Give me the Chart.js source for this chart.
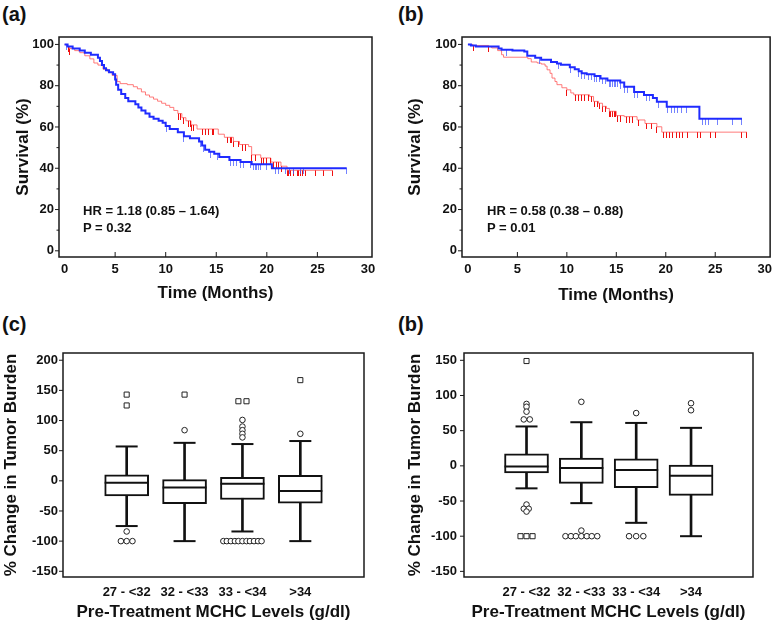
<!DOCTYPE html>
<html>
<head>
<meta charset="utf-8">
<script src="https://cdn.jsdelivr.net/npm/chart.js@4.4.1/dist/chart.umd.min.js"></script>
<style>
  body { margin: 0; background: #fff; font-family: 'Liberation Sans', Arial, sans-serif; }
  #page { position: relative; width: 777px; height: 624px; overflow: hidden; color: #111; }
  .panel { position: absolute; }
  .tag { position: absolute; font-weight: bold; font-size: 20px; line-height: 20px; }
  .note { position: absolute; font-weight: bold; font-size: 13px; line-height: 15px; white-space: nowrap; }
</style>
</head>
<body>
<div id="page">
  <div class="tag" style="left:2px;top:4px">(a)</div>
  <div class="tag" style="left:398px;top:4px">(b)</div>
  <div class="tag" style="left:2px;top:314px">(c)</div>
  <div class="tag" style="left:398px;top:314px">(b)</div>

  <div class="panel" style="left:0;top:0;width:388px;height:310px"><canvas id="kmA"></canvas></div>
  <div class="panel" style="left:390px;top:0;width:387px;height:310px"><canvas id="kmB"></canvas></div>
  <div class="panel" style="left:0;top:310px;width:388px;height:314px"><canvas id="boxC"></canvas></div>
  <div class="panel" style="left:390px;top:310px;width:387px;height:314px"><canvas id="boxD"></canvas></div>

  <div class="note" style="left:83px;top:203px">HR = 1.18 (0.85 – 1.64)</div>
  <div class="note" style="left:83px;top:220px">P = 0.32</div>
  <div class="note" style="left:487px;top:203px">HR = 0.58 (0.38 – 0.88)</div>
  <div class="note" style="left:487px;top:220px">P = 0.01</div>
</div>

<script>
// ---- survival curves: step times (months) and survival (%) after each drop ----
const aBlueT = [0.3, 0.8, 1.5, 2.0, 2.6, 3.3, 3.5, 3.7, 3.9, 4.1, 4.4, 4.8, 5.0, 5.1, 5.3, 5.6, 6.0, 6.3, 7.0, 7.3, 7.6, 8.0, 8.4, 8.8, 9.3, 9.7, 10.0, 10.4, 11.2, 11.8, 12.4, 13.3, 13.6, 13.9, 14.3, 14.8, 15.3, 16.3, 17.4, 18.5, 20.5];
const aBlueS = [99, 98, 97, 96, 95, 93.5, 92, 90, 88.5, 87.5, 86.5, 85.5, 83, 80.5, 78, 76, 74, 72.5, 71, 69.5, 68, 66.5, 65, 64, 63, 62, 60.5, 59, 57.5, 55.5, 54.5, 53, 51, 49, 48, 47, 45.5, 44, 43, 42, 40];
const aBlueEnd = 27.9;
const aBlueCens = [0.2, 10.1, 11.8, 13.4, 13.75, 14.4, 15.1, 16.4, 16.7, 17.05, 17.4, 17.7, 18.35, 18.7, 18.85, 19.0, 19.2, 19.35, 20.0, 20.85, 21.2, 21.8, 22.2, 22.6, 23.3, 23.6, 27.9];

const aRedT = [0.2, 0.5, 1.0, 1.5, 2.0, 2.5, 2.9, 3.3, 3.8, 4.3, 4.7, 5.2, 5.5, 6.2, 6.8, 7.2, 7.6, 8.0, 8.4, 8.8, 9.2, 9.6, 10.0, 10.4, 10.8, 11.2, 11.6, 12.0, 12.5, 13.1, 15.2, 15.8, 16.7, 17.3, 18.2, 18.5, 19.4, 20.4, 21.4, 22.0];
const aRedS = [99, 98, 97, 96, 94.5, 93, 91, 90, 88, 86.5, 85, 82, 81, 80.5, 79.5, 78.5, 77, 75.5, 74.5, 73.5, 72.5, 71.5, 70.5, 69.5, 68, 66.5, 64.5, 63, 61, 59, 56.5, 55, 53, 51.5, 50.5, 46.5, 45, 43, 41, 39];
const aRedEnd = 26.45;
const aRedCens = [0.4, 0.5, 11.3, 11.5, 11.8, 12.25, 12.45, 12.6, 12.75, 13.6, 13.9, 14.25, 14.6, 14.75, 16.1, 16.4, 16.55, 16.7, 17.2, 17.55, 17.9, 18.5, 18.85, 19.5, 19.7, 20.0, 20.35, 20.7, 20.95, 21.2, 21.5, 22.0, 22.15, 22.3, 22.65, 23.0, 23.15, 23.3, 23.5, 23.8, 24.8, 25.6, 26.45];

const bBlueT = [0.3, 0.8, 3.1, 3.4, 4.5, 5.7, 6.0, 6.8, 7.4, 8.4, 9.0, 9.4, 10.3, 10.8, 11.2, 11.5, 12.0, 12.8, 13.4, 14.1, 15.4, 15.8, 16.8, 17.8, 18.7, 19.1, 20.1, 23.4];
const bBlueS = [99.5, 99, 98, 97.4, 97, 96.6, 94.5, 93.5, 92.6, 91.5, 90.8, 90.2, 89, 88, 87, 86, 85.5, 84.7, 83.5, 82.5, 81.5, 79.5, 77, 75.5, 74, 72.2, 69.8, 64];
const bBlueEnd = 27.7;
const bBlueCens = [3.9, 7.2, 9.2, 10.35, 11.2, 11.5, 11.8, 12.15, 12.45, 12.8, 12.95, 13.3, 13.6, 13.9, 14.3, 14.45, 14.6, 14.8, 14.9, 15.1, 15.45, 15.8, 16.1, 16.8, 17.1, 18.1, 18.4, 19.25, 20.2, 20.55, 20.9, 21.2, 21.55, 22.05, 23.7, 24.0, 24.3, 25.2, 26.7, 27.7];

const bRedT = [0.5, 2.1, 2.4, 3.0, 3.4, 3.6, 6.05, 6.4, 7.0, 7.4, 7.8, 8.0, 8.3, 8.5, 8.8, 9.0, 9.5, 10.0, 10.4, 10.7, 12.3, 12.7, 13.2, 13.6, 14.0, 14.3, 15.0, 15.8, 17.1, 17.9, 19.1, 19.6];
const bRedS = [99.5, 99, 98.3, 97, 95, 93.8, 93.1, 91.5, 91, 90.5, 89.5, 87.7, 86, 83.7, 82, 80.5, 79, 78, 76.5, 75.6, 74.8, 72.4, 71.5, 70, 69, 67.6, 65.5, 65, 63.4, 61.7, 60.1, 57.5];
const bRedEnd = 28.2;
const bRedCens = [0.6, 2.1, 10.0, 10.85, 11.15, 11.5, 11.8, 12.15, 12.45, 12.8, 13.1, 13.3, 13.6, 13.9, 14.3, 14.45, 14.6, 14.8, 14.9, 15.1, 15.45, 16.0, 16.3, 16.6, 17.25, 18.1, 18.6, 19.1, 19.75, 20.1, 20.4, 20.7, 21.1, 21.4, 21.7, 22.2, 23.2, 23.5, 24.5, 25.0, 27.7, 28.2];

const kmXTicks = [0, 5, 10, 15, 20, 25, 30];
const kmYTicks = [0, 20, 40, 60, 80, 100];
const kmYMinor = [10, 30, 50, 70, 90];

// ---- tumour burden box plots ----
const mchcCats = ['27 - <32', '32 - <33', '33 - <34', '>34'];
const catPos = [1, 2, 3, 4];

const cLo = [-75, -100, -84, -100];
const cQ1 = [-25, -38, -31, -37];
const cMed = [-3, -11, -5, -17];
const cQ3 = [10, 2, 6, 9];
const cHi = [57, 63, 61, 66];
const cCircles = [
  {x: 1, y: -84}, {x: 0.9, y: -100}, {x: 1, y: -100}, {x: 1.1, y: -100},
  {x: 2, y: 84},
  {x: 3, y: 101}, {x: 3, y: 90}, {x: 3, y: 84}, {x: 3, y: 78}, {x: 3, y: 72},
  {x: 2.67, y: -100}, {x: 2.73, y: -100}, {x: 2.8, y: -100}, {x: 2.87, y: -100}, {x: 2.93, y: -100}, {x: 3, y: -100},
  {x: 3.07, y: -100}, {x: 3.13, y: -100}, {x: 3.2, y: -100}, {x: 3.27, y: -100}, {x: 3.33, y: -100},
  {x: 4, y: 78}
];
const cSquares = [{x: 1, y: 143}, {x: 1, y: 125}, {x: 2, y: 143}, {x: 2.93, y: 132}, {x: 3.07, y: 132}, {x: 4, y: 167}];
const cYTicks = [-150, -100, -50, 0, 50, 100, 150, 200];

const dLo = [-32, -53, -81, -100];
const dQ1 = [-10, -25, -31, -42];
const dMed = [-1, -3, -6, -14];
const dQ3 = [17, 11, 10, 1];
const dHi = [56, 62, 61, 54];
const dCircles = [
  {x: 1, y: 88}, {x: 1, y: 84}, {x: 1, y: 77}, {x: 0.95, y: 66}, {x: 1.06, y: 66},
  {x: 1, y: -55}, {x: 0.95, y: -61}, {x: 1.04, y: -61}, {x: 1, y: -65},
  {x: 2, y: 91}, {x: 2, y: -92},
  {x: 1.71, y: -100}, {x: 1.81, y: -100}, {x: 1.9, y: -100}, {x: 2, y: -100}, {x: 2.1, y: -100}, {x: 2.19, y: -100}, {x: 2.29, y: -100},
  {x: 3, y: 75}, {x: 2.87, y: -100}, {x: 3, y: -100}, {x: 3.13, y: -100},
  {x: 4, y: 89}, {x: 4, y: 79}
];
const dSquares = [{x: 1, y: 149}, {x: 0.89, y: -100}, {x: 1, y: -100}, {x: 1.11, y: -100}];
const dYTicks = [-150, -100, -50, 0, 50, 100, 150];

Chart.defaults.font.family = "'Liberation Sans', Arial, sans-serif";
Chart.defaults.color = '#111';

const tickFont = {size: 13, weight: 'bold'};
const titleFont = {size: 17, weight: 'bold'};

// box outline + tick marks drawn from the chart's own scales
const framePlugin = {
  id: 'frame',
  afterDatasetsDraw(chart, args, opts) {
    const {ctx, chartArea: a, scales} = chart;
    const x = scales.x, y = scales.y;
    ctx.save();
    ctx.strokeStyle = '#1a1a1a';
    ctx.lineWidth = 1.5;
    ctx.strokeRect(a.left, a.top, a.right - a.left, a.bottom - a.top);
    ctx.lineWidth = 1;
    ctx.beginPath();
    (opts.xIn || []).forEach(v => {
      const px = x.getPixelForValue(v);
      ctx.moveTo(px, a.bottom); ctx.lineTo(px, a.bottom - 5);
    });
    (opts.yOut || []).forEach(v => {
      const py = y.getPixelForValue(v);
      ctx.moveTo(a.left, py); ctx.lineTo(a.left - 4, py);
    });
    (opts.yMinor || []).forEach(v => {
      const py = y.getPixelForValue(v);
      ctx.moveTo(a.left, py); ctx.lineTo(a.left - 2.5, py);
    });
    ctx.stroke();
    ctx.restore();
  }
};

function stepAt(T, S, t) {
  let s = 100;
  for (let i = 0; i < T.length; i++) if (T[i] <= t) s = S[i];
  return s;
}

function curvePoints(T, S, end) {
  const pts = [{x: 0, y: 100}];
  T.forEach((t, i) => pts.push({x: t, y: S[i]}));
  pts.push({x: end, y: S[S.length - 1]});
  return pts;
}

// small vertical censor tick hanging under the curve
function censorMark(color, h) {
  const c = document.createElement('canvas');
  c.width = 1; c.height = h * 2;
  const g = c.getContext('2d');
  g.fillStyle = color;
  g.fillRect(0, h, 1, h);
  return c;
}

const blueMark = censorMark('rgba(70,90,255,0.75)', 6);
const redMark = censorMark('#f01010', 6);

function kmChart(id, d, L) {
  return new Chart(document.getElementById(id), {
    type: 'line',
    data: {
      datasets: [
        {data: curvePoints(d.bT, d.bS, d.bEnd), stepped: 'before', borderColor: '#1f2bff', borderWidth: 2, pointRadius: 0},
        {data: d.bC.map(t => ({x: t, y: stepAt(d.bT, d.bS, t)})), showLine: false, pointStyle: blueMark},
        {data: d.rC.map(t => ({x: t, y: stepAt(d.rT, d.rS, t)})), showLine: false, pointStyle: redMark},
        {data: curvePoints(d.rT, d.rS, d.rEnd), stepped: 'before', borderColor: 'rgba(255,90,90,0.8)', borderWidth: 1, pointRadius: 0}
      ]
    },
    options: {
      responsive: true, maintainAspectRatio: false, animation: false, events: [],
      layout: {padding: {left: 0, top: 37, right: L.right, bottom: 0}},
      plugins: {legend: {display: false}, tooltip: {enabled: false},
        frame: {xIn: kmXTicks.slice(1, -1), yOut: kmYTicks, yMinor: kmYMinor}},
      scales: {
        x: {
          type: 'linear', min: L.xMin, max: L.xMax,
          afterBuildTicks: s => { s.ticks = kmXTicks.map(v => ({value: v})); },
          afterFit: s => { s.height = 53; },
          grid: {display: false, drawTicks: false}, border: {display: false},
          ticks: {font: tickFont, padding: 5, maxRotation: 0, autoSkip: false},
          title: {display: true, text: 'Time (Months)', font: titleFont, padding: {top: 0, bottom: L.xTitlePad}}
        },
        y: {
          type: 'linear', min: -3, max: 103.6,
          afterBuildTicks: s => { s.ticks = kmYTicks.map(v => ({value: v})); },
          afterFit: s => { s.width = L.yWidth; },
          grid: {display: false, drawTicks: false}, border: {display: false},
          ticks: {font: tickFont, padding: 5},
          title: {display: true, text: 'Survival (%)', font: titleFont, padding: {top: L.yTitlePad, bottom: 0}}
        }
      }
    },
    plugins: [framePlugin]
  });
}

function boxChart(id, b, L) {
  const whisk = catPos.map((x, i) => ({x: x, y: [b.lo[i], b.hi[i]]}));
  const boxes = catPos.map((x, i) => ({x: x, y: [b.q1[i], b.q3[i]]}));
  const meds = catPos.map((x, i) => ({x: x, y: b.med[i]}));
  const caps = [];
  catPos.forEach((x, i) => { caps.push({x: x, y: b.lo[i]}); caps.push({x: x, y: b.hi[i]}); });
  return new Chart(document.getElementById(id), {
    type: 'bar',
    data: {
      datasets: [
        {type: 'scatter', data: meds, pointStyle: 'line', pointRadius: 22, borderColor: '#111', borderWidth: 2},
        {type: 'scatter', data: caps, pointStyle: 'line', pointRadius: 11, borderColor: '#111', borderWidth: 2},
        {type: 'scatter', data: b.circles, pointStyle: 'circle', pointRadius: 2.8, backgroundColor: '#fff', borderColor: '#222', borderWidth: 1},
        {type: 'scatter', data: b.squares, pointStyle: 'rect', pointRadius: 3.6, backgroundColor: '#fff', borderColor: '#222', borderWidth: 1},
        {type: 'bar', data: boxes, grouped: false, barThickness: 44, backgroundColor: '#fff', borderColor: '#111', borderWidth: 2, borderSkipped: false},
        {type: 'bar', data: whisk, grouped: false, barThickness: 2, backgroundColor: '#111', borderWidth: 0}
      ]
    },
    options: {
      responsive: true, maintainAspectRatio: false, animation: false, events: [],
      layout: {padding: {left: 0, top: 43, right: L.right, bottom: 0}},
      plugins: {legend: {display: false}, tooltip: {enabled: false}, frame: {yOut: b.yTicks}},
      scales: {
        x: {
          type: 'linear', min: L.xMin, max: L.xMax, offset: false,
          afterBuildTicks: s => { s.ticks = catPos.map(v => ({value: v})); },
          afterFit: s => { s.height = 47; },
          grid: {display: false, drawTicks: false}, border: {display: false},
          ticks: {font: tickFont, padding: 8, maxRotation: 0, autoSkip: false, callback: v => mchcCats[v - 1]},
          title: {display: true, text: 'Pre-Treatment MCHC Levels (g/dl)', font: titleFont, padding: {top: 0, bottom: 1}}
        },
        y: {
          type: 'linear', min: L.yMin, max: L.yMax,
          afterBuildTicks: s => { s.ticks = b.yTicks.map(v => ({value: v})); },
          afterFit: s => { s.width = L.yWidth; },
          grid: {display: false, drawTicks: false}, border: {display: false},
          ticks: {font: tickFont, padding: L.yTickPad},
          title: {display: true, text: '% Change in Tumor Burden', font: titleFont, padding: {top: L.yTitlePad, bottom: 0}}
        }
      }
    },
    plugins: [framePlugin]
  });
}

kmChart('kmA',
  {bT: aBlueT, bS: aBlueS, bEnd: aBlueEnd, bC: aBlueCens, rT: aRedT, rS: aRedS, rEnd: aRedEnd, rC: aRedCens},
  {right: 16, yWidth: 59, xMin: -0.55, xMax: 30.4, xTitlePad: 6.5, yTitlePad: 12.8});
kmChart('kmB',
  {bT: bBlueT, bS: bBlueS, bEnd: bBlueEnd, bC: bBlueCens, rT: bRedT, rS: bRedS, rEnd: bRedEnd, rC: bRedCens},
  {right: 1, yWidth: 72, xMin: -0.6, xMax: 30.55, xTitlePad: 4.8, yTitlePad: 15.6});

boxChart('boxC',
  {lo: cLo, q1: cQ1, med: cMed, q3: cQ3, hi: cHi, circles: cCircles, squares: cSquares, yTicks: cYTicks},
  {right: 16, yWidth: 63, xMin: -0.1, xMax: 5.1, yMin: -159.5, yMax: 212, yTickPad: 5, yTitlePad: 0.8});
boxChart('boxD',
  {lo: dLo, q1: dQ1, med: dMed, q3: dQ3, hi: dHi, circles: dCircles, squares: dSquares, yTicks: dYTicks},
  {right: 1, yWidth: 74, xMin: -0.14, xMax: 5.13, yMin: -158, yMax: 160.4, yTickPad: 7, yTitlePad: 15.6});
</script>
</body>
</html>
